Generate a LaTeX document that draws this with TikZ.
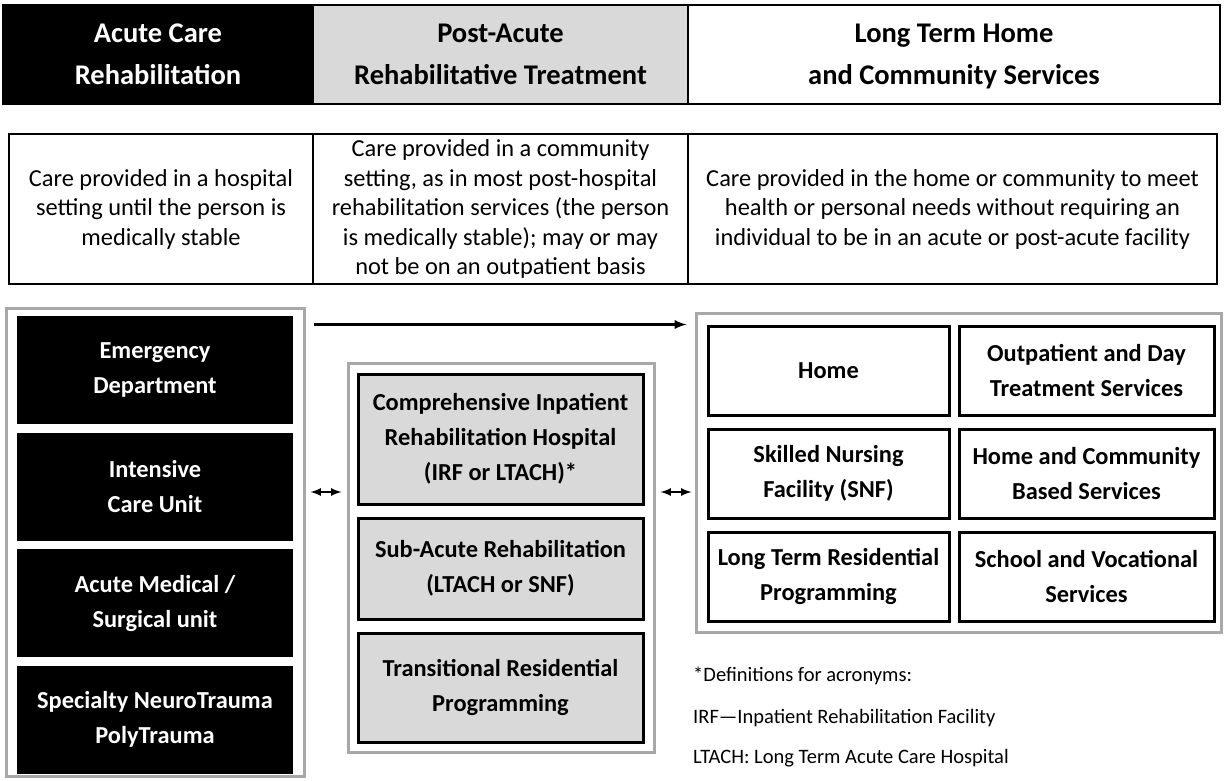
\documentclass[tikz,border=0pt]{standalone}
\usepackage{fontspec}
\setmainfont{Carlito}
\usepackage{tikz}
\usetikzlibrary{arrows,positioning,calc}
\definecolor{boxgray}{HTML}{D9D9D9}
\definecolor{rimgray}{HTML}{A8A8A8}

\begin{document}
\begin{tikzpicture}
[x=1pt,y=-1pt,>=latex,
 head/.style = {draw, line width=2pt, minimum height=99pt, align=center, inner sep=0pt, text depth=0pt, font=\bfseries\fontsize{28.5}{42}\selectfont},
 desc/.style = {draw, line width=1.8pt, minimum height=150pt, align=center, inner sep=0pt, font=\fontsize{24.4}{29.5}\selectfont},
 rim/.style = {draw=rimgray, line width=3pt, fill=white},
 unit/.style = {align=center, inner sep=0pt, font=\bfseries\fontsize{24.4}{35}\selectfont},
 acute/.style = {unit, fill=black, text=white, minimum width=276pt, minimum height=108pt},
 post/.style = {unit, draw, line width=3pt, fill=boxgray, minimum width=285pt},
 comm/.style = {unit, draw, line width=3pt, fill=white, minimum height=89pt},
 note/.style = {anchor=west, inner sep=0pt, font=\fontsize{20.5}{24}\selectfont},
 arr/.style = {->, line width=3pt},
 dbl/.style = {<->, line width=2.5pt},
]
\useasboundingbox (0,0) rectangle (1225,780);

% header row
\node (hA) at (158,54.5)[head, fill=black, text=white, minimum width=310pt] {Acute Care\\Rehabilitation};
\node (hP) at (500.5,54.5)[head, fill=boxgray, minimum width=375pt] {Post-Acute\\Rehabilitative Treatment};
\node (hL) at (954,54.5)[head, minimum width=532pt] {Long Term Home\\and Community Services};

% descriptions
\node (dA) at (161,209)[desc, minimum width=304pt] {Care provided in a hospital\\setting until the person is\\medically stable};
\node (dP) at (500.5,209)[desc, minimum width=375pt] {Care provided in a community\\setting, as in most post-hospital\\rehabilitation services (the person\\is medically stable); may or may\\not be on an outpatient basis};
\node (dL) at (952.5,209)[desc, minimum width=529pt] {Care provided in the home or community to meet\\health or personal needs without requiring an\\individual to be in an acute or post-acute facility};

% groups
\node (lgrp) at (155,542)[rim, minimum width=298pt, minimum height=468pt] {};
\node (mgrp) at (501,557.5)[rim, minimum width=306pt, minimum height=389pt] {};
\node (rgrp) at (958.5,472.5)[rim, minimum width=525pt, minimum height=319pt] {};

% acute care settings
\node (ed) at (155,370)[acute] {Emergency\\Department};
\node (icu) at (155,487)[acute] {Intensive\\Care Unit};
\node (msu) at (155,603)[acute] {Acute Medical /\\Surgical unit};
\node (snt) at (155,719.5)[acute] {Specialty NeuroTrauma\\PolyTrauma};

% post-acute settings
\node (cirh) at (500.5,439)[post, minimum height=130pt] {Comprehensive Inpatient\\Rehabilitation Hospital\\(IRF or LTACH)*};
\node (sar) at (500.5,568.5)[post, minimum height=101pt] {Sub-Acute Rehabilitation\\(LTACH or SNF)};
\node (trp) at (500.5,687.5)[post, minimum height=109pt] {Transitional Residential\\Programming};

% community settings
\node (home) at (828.5,370.5)[comm, minimum width=241pt] {Home};
\node (odt) at (1086.5,370.5)[comm, minimum width=255pt] {Outpatient and Day\\Treatment Services};
\node (snf) at (828.5,473.5)[comm, minimum width=241pt] {Skilled Nursing\\Facility (SNF)};
\node (hcbs) at (1086.5,473.5)[comm, minimum width=255pt] {Home and Community\\Based Services};
\node (ltrp) at (828.5,576.5)[comm, minimum width=241pt] {Long Term Residential\\Programming};
\node (svs) at (1086.5,576.5)[comm, minimum width=255pt] {School and Vocational\\Services};

% arrows
\coordinate (lvl) at (0,492);
\draw[arr] ([xshift=8pt,yshift=-18pt]lgrp.north east) -- ([xshift=-8pt,yshift=-18pt]lgrp.north east -| rgrp.west);
\draw[dbl] ([xshift=5pt]lgrp.east |- lvl) -- ([xshift=-5pt]mgrp.west |- lvl);
\draw[dbl] ([xshift=5pt]mgrp.east |- lvl) -- ([xshift=-3pt]rgrp.west |- lvl);

% footnote
\node (n1) at (693,676)[note] {*Definitions for acronyms:};
\node (n2) at (693,718)[note] {IRF---Inpatient Rehabilitation Facility};
\node (n3) at (693,758)[note] {LTACH: Long Term Acute Care Hospital};
\end{tikzpicture}
\end{document}
